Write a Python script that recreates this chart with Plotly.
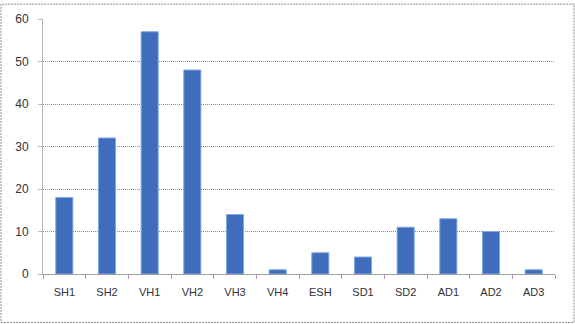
import plotly.graph_objects as go

categories = ["SH1", "SH2", "VH1", "VH2", "VH3", "VH4", "ESH", "SD1", "SD2", "AD1", "AD2", "AD3"]
values = [18, 32, 57, 48, 14, 1, 5, 4, 11, 13, 10, 1]
y_ticks = [0, 10, 20, 30, 40, 50, 60]

W, H = 575, 324
ml, mr, mt, mb = 43, 20, 16, 50
pw, ph = W - ml - mr, H - mt - mb

fig = go.Figure(go.Bar(
    x=categories, y=values,
    marker=dict(color="#3F6DBC", line=dict(color="#7FA8E6", width=1)),
    width=0.4,
))

fig.update_layout(
    width=W, height=H,
    margin=dict(l=ml, r=mr, t=mt, b=mb),
    paper_bgcolor="white", plot_bgcolor="white",
    showlegend=False,
    font=dict(family="Liberation Sans", size=11, color="#333"),
    xaxis=dict(
        showline=True, linecolor="#A0A0A0", linewidth=1,
        ticks="outside", ticklen=4, tickcolor="#A0A0A0", tickson="boundaries",
        showgrid=False, ticklabelstandoff=8,
    ),
    yaxis=dict(
        range=[0, 60], tickvals=y_ticks,
        showline=True, linecolor="#B8B8B8", linewidth=1,
        ticks="outside", ticklen=4, tickcolor="#B8B8B8",
        showgrid=True, gridcolor="#8C8C8C", griddash="1px,1px", gridwidth=1,
        zeroline=False, ticklabelstandoff=7,
        tickfont=dict(size=12),
    ),
    shapes=[dict(
        type="rect", xref="paper", yref="paper",
        x0=(-ml + 1) / pw, x1=(pw + mr - 1) / pw,
        y0=(-mb + 1) / ph, y1=(ph + mt - 1) / ph,
        line=dict(color="#8C8C8C", width=1, dash="2px,1px"),
    )],
)

fig.write_html("out.html")
